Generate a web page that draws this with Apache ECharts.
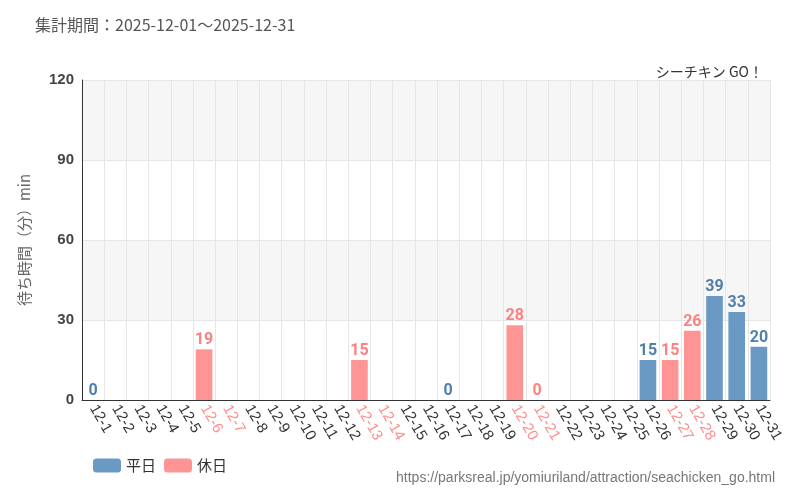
<!DOCTYPE html>
<html>
<head><meta charset="utf-8">
<script src="https://cdn.jsdelivr.net/npm/echarts@6/dist/echarts.min.js"></script>
</head>
<body style="margin:0">
<div id="main" style="width:800px;height:500px"></div>
<script>
var days = [];
for (var d = 1; d <= 31; d++) days.push('12-' + d);
var holidays = ['12-6', '12-7', '12-13', '12-14', '12-20', '12-21', '12-27', '12-28'];
// '-' = no data
var weekdayVals = {'12-1': 0, '12-17': 0, '12-26': 15, '12-29': 39, '12-30': 33, '12-31': 20};
var holidayVals = {'12-6': 19, '12-13': 15, '12-20': 28, '12-21': 0, '12-27': 15, '12-28': 26};

var weekdaySeries = days.map(function (k) { return k in weekdayVals ? weekdayVals[k] : '-'; });
var holidaySeries = days.map(function (k) { return k in holidayVals ? holidayVals[k] : '-'; });

var chart = echarts.init(document.getElementById('main'));
var lbl = {show: true, position: 'top', distance: 1, fontSize: 16, fontWeight: 'bold', fontFamily: 'Liberation Sans Narrow, Roboto, sans-serif'};
chart.setOption({
  animation: false,
  title: [
    {text: '集計期間：2025-12-01～2025-12-31', left: 30, top: 12, textStyle: {fontSize: 16, fontWeight: 'normal', color: '#555', fontFamily: 'Noto Sans CJK JP, sans-serif'}},
    {text: 'シーチキン GO！', right: 32, top: 60, textStyle: {fontSize: 14, fontWeight: 'normal', color: '#333', fontFamily: 'Noto Sans CJK JP, sans-serif'}},
    {text: 'https://parksreal.jp/yomiuriland/attraction/seachicken_go.html', right: 20, bottom: 10, textStyle: {fontSize: 14, fontWeight: 'normal', color: '#777'}}
  ],
  legend: {left: 88, bottom: 22, itemWidth: 28, itemHeight: 14, textStyle: {fontSize: 15, color: '#333', fontFamily: 'Noto Sans CJK JP, sans-serif'},
    data: ['平日', '休日']},
  grid: {left: 82, right: 30, top: 80, bottom: 100},
  xAxis: {
    type: 'category', data: days,
    axisTick: {show: false},
    axisLine: {lineStyle: {color: '#333'}},
    splitLine: {show: true, lineStyle: {color: '#e6e6e6'}},
    axisLabel: {interval: 0, rotate: -60, fontSize: 15, margin: 6,
      color: function (v) { return holidays.indexOf(v) >= 0 ? '#ff8c8c' : '#333'; }}
  },
  yAxis: {
    type: 'value', min: 0, max: 120, interval: 30,
    name: '待ち時間（分）min', nameLocation: 'middle', nameGap: 50,
    nameTextStyle: {fontSize: 15, color: '#666', fontFamily: 'Noto Sans CJK JP, sans-serif'},
    axisLine: {show: true, lineStyle: {color: '#333'}},
    axisLabel: {fontSize: 15, fontWeight: 'bold', color: '#444'},
    splitLine: {lineStyle: {color: '#e6e6e6'}},
    splitArea: {show: true, areaStyle: {color: ['#fff', '#f6f6f6']}}
  },
  series: [
    {name: '平日', type: 'bar', stack: 'a', barWidth: '75%', data: weekdaySeries,
      itemStyle: {color: '#6a9ac4'}, label: Object.assign({color: '#4f7fae'}, lbl)},
    {name: '休日', type: 'bar', stack: 'a', barWidth: '75%', data: holidaySeries,
      itemStyle: {color: '#ff9494'}, label: Object.assign({color: '#ff8080'}, lbl)}
  ]
});
</script>
</body>
</html>
